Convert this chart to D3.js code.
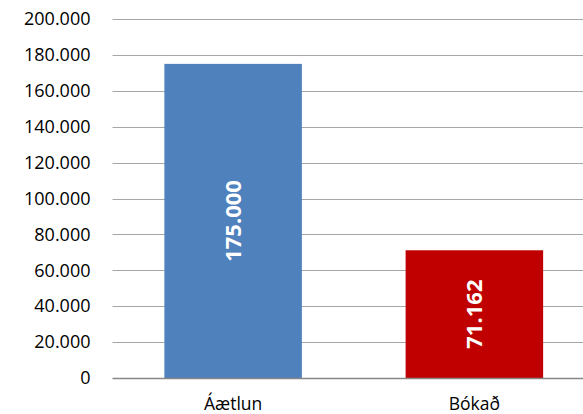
<!DOCTYPE html>
<html>
<head>
<meta charset="utf-8">
<script src="https://cdn.jsdelivr.net/npm/d3@7"></script>
<style>
  body { margin: 0; background: #fff; }
  svg { display: block; font-family: "Open Sans", "Liberation Sans", sans-serif; }
</style>
</head>
<body>
<div id="chart"></div>
<script>
// Data
var categories = ["Áætlun", "Bókað"];
var values = [175000, 71162];
var barColors = ["#4F81BD", "#C00000"];
var tickValues = [0, 20000, 40000, 60000, 80000, 100000, 120000, 140000, 160000, 180000, 200000];

var svgWidth = 583;
var svgHeight = 414;
var margin = { top: 19, right: -12, bottom: 36, left: 112.5 };
var width = svgWidth - margin.left - margin.right;
var height = svgHeight - margin.top - margin.bottom;

var fmt = function(v) {
  return d3.format(",")(v).replace(/,/g, ".");
};

var svg = d3.select("#chart")
  .append("svg")
  .attr("width", svgWidth)
  .attr("height", svgHeight);

var chartGroup = svg.append("g")
  .attr("transform", `translate(${margin.left}, ${margin.top})`);

// Scales
var xScale = d3.scaleBand()
  .domain(categories)
  .range([0, width])
  .paddingInner(0.43)
  .paddingOuter(0.215);

var yScale = d3.scaleLinear()
  .domain([0, 200000])
  .range([height, 0]);

// Gridlines
chartGroup.append("g")
  .selectAll("line")
  .data(tickValues.filter(d => d > 0))
  .enter()
  .append("line")
  .attr("x1", 0)
  .attr("x2", width)
  .attr("y1", d => Math.round(yScale(d)) + 0.5)
  .attr("y2", d => Math.round(yScale(d)) + 0.5)
  .attr("stroke", "#a6a6a6")
  .attr("stroke-width", 1.2);

// Y axis labels
var leftAxis = d3.axisLeft(yScale)
  .tickValues(tickValues)
  .tickSize(0)
  .tickPadding(22)
  .tickFormat(d => d === 0 ? "0" : fmt(d));

chartGroup.append("g")
  .call(leftAxis)
  .call(g => g.select(".domain").remove())
  .selectAll("text")
  .attr("font-size", "18px")
  .attr("font-family", "\"Open Sans\", sans-serif")
  .attr("fill", "#000");

// Bars
chartGroup.selectAll(".bar")
  .data(values)
  .enter()
  .append("rect")
  .attr("class", "bar")
  .attr("x", (d, i) => xScale(categories[i]))
  .attr("width", xScale.bandwidth())
  .attr("y", d => yScale(d))
  .attr("height", d => height - yScale(d))
  .attr("fill", (d, i) => barColors[i]);

// Baseline
chartGroup.append("line")
  .attr("x1", 0)
  .attr("x2", width)
  .attr("y1", height + 0.5)
  .attr("y2", height + 0.5)
  .attr("stroke", "#868686")
  .attr("stroke-width", 1.5);

// Data labels
chartGroup.selectAll(".valueText")
  .data(values)
  .enter()
  .append("text")
  .attr("class", "valueText")
  .attr("transform", (d, i) => {
    var cx = xScale(categories[i]) + xScale.bandwidth() / 2;
    var cy = (yScale(d) + height) / 2;
    return `translate(${cx}, ${cy}) rotate(-90)`;
  })
  .attr("text-anchor", "middle")
  .attr("dy", "0.36em")
  .attr("font-size", "22px")
  .attr("font-weight", "bold")
  .attr("fill", "#fff")
  .text(d => fmt(d));

// X axis labels
var bottomAxis = d3.axisBottom(xScale).tickSize(0).tickPadding(20);
chartGroup.append("g")
  .attr("transform", `translate(0, ${height})`)
  .call(bottomAxis)
  .call(g => g.select(".domain").remove())
  .selectAll("text")
  .attr("font-size", "17.5px")
  .attr("font-family", "\"Open Sans\", sans-serif")
  .attr("fill", "#000");
</script>
</body>
</html>
